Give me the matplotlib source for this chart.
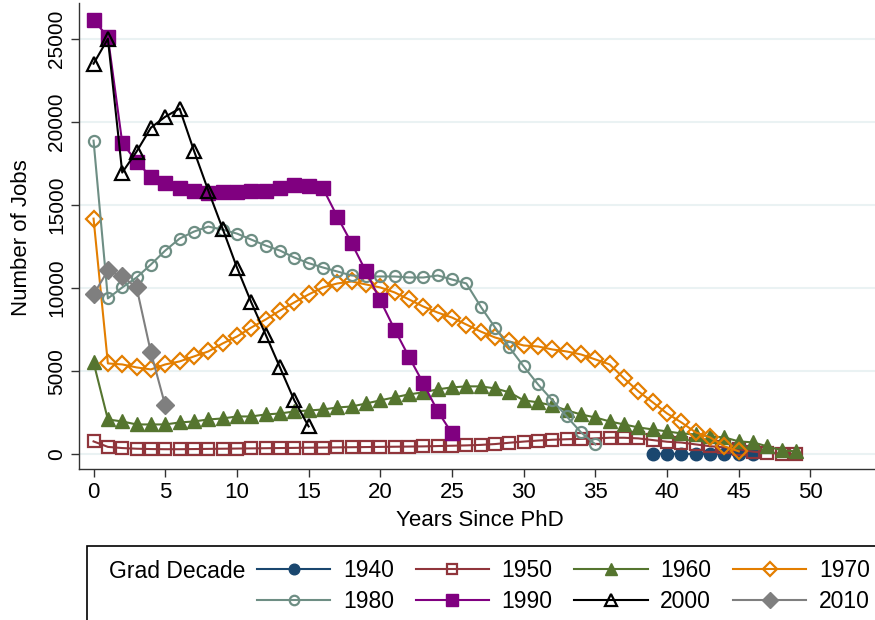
import matplotlib
matplotlib.use("Agg")
import matplotlib.pyplot as plt
from matplotlib.patches import Rectangle

plt.rcParams["font.family"] = ["Liberation Sans", "DejaVu Sans"]

DECADES = ["1940", "1950", "1960", "1970", "1980", "1990", "2000", "2010"]

START = {"1940": 39, "1950": 0, "1960": 0, "1970": 0,
         "1980": 0, "1990": 0, "2000": 0, "2010": 0}

jobs_1940 = [40, 35, 30, 30, 25, 20, 15, 10]
jobs_1950 = [780, 450, 380, 340, 320, 310, 310, 320, 330, 340,
             350, 360, 370, 380, 390, 400, 410, 420, 430, 440,
             450, 460, 470, 480, 500, 520, 540, 570, 620, 700,
             770, 830, 880, 910, 930, 960, 1000, 1000, 960, 860,
             760, 710, 600, 490, 420, 300, 160, 90, 50, 30]
jobs_1960 = [5530, 2100, 1980, 1800, 1800, 1800, 1920, 1980, 2100, 2160,
             2280, 2280, 2400, 2460, 2580, 2640, 2700, 2820, 2880, 3060,
             3250, 3430, 3610, 3730, 3910, 4030, 4090, 4090, 3970, 3730,
             3250, 3130, 2940, 2650, 2400, 2220, 1980, 1800, 1620, 1500,
             1380, 1260, 1200, 1080, 1020, 780, 720, 480, 240, 180]
jobs_1970 = [14180, 5470, 5410, 5230, 5110, 5410, 5590, 5890, 6190, 6670,
             7090, 7630, 8110, 8650, 9140, 9620, 10040, 10280, 10400, 10220,
             10040, 9740, 9320, 8890, 8530, 8230, 7810, 7390, 7030, 6790,
             6550, 6490, 6310, 6190, 6010, 5710, 5410, 4570, 3790, 3130,
             2460, 1920, 1320, 1020, 480, 180]
jobs_1980 = [18870, 9380, 10040, 10640, 11420, 12260, 12980, 13400, 13700, 13520,
             13280, 12920, 12560, 12260, 11840, 11500, 11240, 11000, 10760, 10700,
             10700, 10700, 10640, 10640, 10760, 10520, 10280, 8890, 7630, 6430,
             5290, 4210, 3250, 2280, 1320, 600]
jobs_1990 = [26140, 25100, 18750, 17600, 16700, 16350, 16000, 15870, 15750, 15800,
             15800, 15870, 15870, 16000, 16230, 16170, 16000, 14300, 12700, 11000,
             9260, 7510, 5860, 4270, 2600, 1260]
jobs_2000 = [23500, 25000, 16950, 18210, 19650, 20310, 20800, 18270, 15870, 13580,
             11240, 9140, 7210, 5230, 3250, 1680]
jobs_2010 = [9620, 11060, 10700, 10040, 6130, 2940]

SERIES = {"1940": jobs_1940, "1950": jobs_1950, "1960": jobs_1960, "1970": jobs_1970,
          "1980": jobs_1980, "1990": jobs_1990, "2000": jobs_2000, "2010": jobs_2010}

# colour, marker, size, filled
STYLE = {
    "1940": ("#1a476f", "o", 9, True),
    "1950": ("#90353b", "s", 9, False),
    "1960": ("#55752f", "^", 10, True),
    "1970": ("#e37e00", "D", 8, False),
    "1980": ("#6e8e84", "o", 8, False),
    "1990": ("#800080", "s", 10, True),
    "2000": ("#000000", "^", 10, False),
    "2010": ("#7f7f7f", "D", 9, True),
}

fig = plt.figure(figsize=(8.75, 6.2), dpi=100)
ax = fig.add_axes([78.5 / 875, 1 - 469 / 620, (875 - 78.5) / 875, (469 - 3) / 620])

handles = []
for dec in DECADES:
    vals = SERIES[dec]
    xs = list(range(START[dec], START[dec] + len(vals)))
    col, mk, ms, filled = STYLE[dec]
    h, = ax.plot(xs, vals, color=col, lw=1.5, marker=mk, markersize=ms,
                 markerfacecolor=col if filled else "none",
                 markeredgecolor=col, markeredgewidth=1.6 if not filled else 1.0,
                 label=dec)
    handles.append(h)

ax.set_xlim(-1.05, 54.5)
ax.set_ylim(-880, 27150)
ax.set_xticks(range(0, 51, 5))
ax.set_yticks(range(0, 25001, 5000))
ax.yaxis.grid(True, color="#eaf2f3", lw=1.5)
ax.set_axisbelow(True)
for s in ("top", "right"):
    ax.spines[s].set_visible(False)
for s in ("left", "bottom"):
    ax.spines[s].set_color("#333333")
    ax.spines[s].set_linewidth(1.0)
ax.tick_params(axis="x", labelsize=16, length=6, color="#333333", width=1.0, pad=3)
ax.tick_params(axis="y", labelsize=15, length=6, color="#333333", width=1.0, pad=3)
for lbl in ax.get_yticklabels():
    lbl.set_rotation(90)
    lbl.set_va("center")

fig.text(480 / 875, 1 - 521 / 620, "Years Since PhD", fontsize=16, ha="center", va="center")
fig.text(22 / 875, 1 - 238 / 620, "Number of Jobs", fontsize=16, rotation=90,
         ha="center", va="center")

order = ["1940", "1980", "1950", "1990", "1960", "2000", "1970", "2010"]
hmap = dict(zip(DECADES, handles))
fig.legend([hmap[d] for d in order], order, loc="center left",
           bbox_to_anchor=(257 / 875, 1 - 586 / 620), ncol=4, frameon=False,
           fontsize=16.5, handlelength=3.2, handletextpad=0.55, columnspacing=0.95,
           labelspacing=0.35, borderpad=0, borderaxespad=0, markerscale=0.85)
fig.text(109 / 875, 1 - 572 / 620, "Grad Decade", fontsize=16.5, va="center", ha="left")
fig.patches.append(Rectangle((87 / 875, -0.05), 0.95, 1 - 546 / 620 + 0.05,
                             transform=fig.transFigure, fill=False,
                             edgecolor="black", lw=1.2))

fig.savefig("out.png", dpi=100)
